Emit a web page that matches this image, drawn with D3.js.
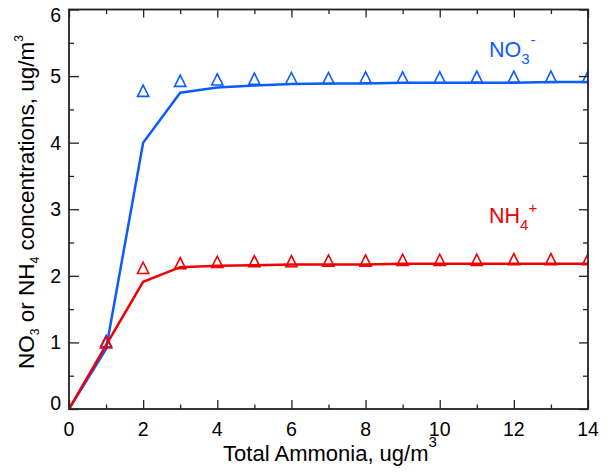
<!DOCTYPE html>
<html>
<head>
<meta charset="utf-8">
<script src="https://cdn.jsdelivr.net/npm/d3@7/dist/d3.min.js"></script>
<style>
  html, body { margin: 0; padding: 0; background: #fff; }
  svg { display: block; font-family: "Liberation Sans", Arial, sans-serif; }
</style>
</head>
<body>
<svg id="chart" width="613" height="474"></svg>
<script>
// ---- data ----
const ammonia   = [0, 1, 2, 3, 4, 5, 6, 7, 8, 9, 10, 11, 12, 13, 14];
const no3Model  = [0, 0.90, 4.00, 4.75, 4.83, 4.86, 4.88, 4.89, 4.89, 4.90, 4.90, 4.90, 4.90, 4.91, 4.91];
const nh4Model  = [0, 0.96, 1.91, 2.13, 2.15, 2.16, 2.17, 2.17, 2.17, 2.18, 2.18, 2.18, 2.18, 2.18, 2.18];
const obsX      = [1, 2, 3, 4, 5, 6, 7, 8, 9, 10, 11, 12, 13, 14];
const no3Obs    = [1.02, 4.78, 4.93, 4.95, 4.96, 4.97, 4.97, 4.98, 4.98, 4.98, 4.99, 4.99, 4.99, 4.99];
const nh4Obs    = [1.00, 2.12, 2.19, 2.21, 2.22, 2.22, 2.23, 2.23, 2.24, 2.24, 2.24, 2.25, 2.25, 2.25];
const xTicks    = [0, 2, 4, 6, 8, 10, 12, 14];
const yTicks    = [0, 1, 2, 3, 4, 5, 6];

const BLUE = "#0b5cff", RED = "#f00000";

const svg = d3.select("#chart");
const L = 69, R = 588, T = 9.5, B = 409;
const x = d3.scaleLinear().domain([0, 14]).range([L, R]);
const y = d3.scaleLinear().domain([0, 6]).range([B, T]);

svg.append("defs").append("clipPath").attr("id", "plotclip")
  .append("rect").attr("x", L).attr("y", T).attr("width", R - L).attr("height", B - T);

const plot = svg.append("g").attr("clip-path", "url(#plotclip)");

const line = d3.line().x((d, i) => x(ammonia[i])).y(d => y(d));
const tri = d3.symbol().type({
  draw(ctx, size) {
    const h = 5.6;
    ctx.moveTo(-h, h); ctx.lineTo(0, -h); ctx.lineTo(h, h); ctx.closePath();
  }
});

function series(model, obs, color) {
  plot.append("path").datum(model).attr("d", line)
    .attr("fill", "none").attr("stroke", color).attr("stroke-width", 2.5)
    .attr("stroke-linejoin", "miter");
  plot.selectAll(null).data(obs).enter().append("path")
    .attr("d", tri())
    .attr("transform", (d, i) => `translate(${x(obsX[i])},${y(d)})`)
    .attr("fill", "none").attr("stroke", color).attr("stroke-width", 1.6);
}
series(no3Model, no3Obs, BLUE);
series(nh4Model, nh4Obs, RED);

// ---- axes (IDL-style inward ticks on all sides) ----
const axColor = "#222";
const xAxisB = d3.axisBottom(x).tickValues(d3.range(0, 14.01, 1)).tickSize(-4.5).tickFormat("");
const xAxisT = d3.axisTop(x).tickValues(d3.range(0, 14.01, 1)).tickSize(-4.5).tickFormat("");
const yAxisL = d3.axisLeft(y).tickValues(d3.range(0, 6.01, 0.5)).tickSize(-5).tickFormat("");
const yAxisR = d3.axisRight(y).tickValues(d3.range(0, 6.01, 0.5)).tickSize(-5).tickFormat("");

function styleAxis(g, majorSel, majorLen, dir) {
  g.select(".domain").remove();
  g.selectAll(".tick line").attr("stroke", axColor).attr("stroke-width", 1.3);
  g.selectAll(".tick").filter(majorSel).select("line").each(function () {
    const ln = d3.select(this);
    if (dir === "x") ln.attr("y2", majorLen); else ln.attr("x2", majorLen);
  });
}
const gB = svg.append("g").attr("transform", `translate(0,${B})`).call(xAxisB);
styleAxis(gB, d => d % 2 === 0, -9, "x");
const gT = svg.append("g").attr("transform", `translate(0,${T})`).call(xAxisT);
styleAxis(gT, d => d % 2 === 0, 8, "x");
const gL = svg.append("g").attr("transform", `translate(${L},0)`).call(yAxisL);
styleAxis(gL, d => Number.isInteger(d), 10, "y");
const gR = svg.append("g").attr("transform", `translate(${R},0)`).call(yAxisR);
styleAxis(gR, d => Number.isInteger(d), -9, "y");

svg.append("rect").attr("x", L).attr("y", T).attr("width", R - L).attr("height", B - T)
  .attr("fill", "none").attr("stroke", axColor).attr("stroke-width", 1.8);

// tick labels
svg.append("g").selectAll("text").data(xTicks).enter().append("text")
  .attr("x", d => x(d)).attr("y", 436).attr("text-anchor", "middle")
  .attr("font-size", 19.5).attr("fill", "#000").text(d => d);
svg.append("g").selectAll("text").data(yTicks).enter().append("text")
  .attr("x", 61).attr("y", d => d === 0 ? 410 : d === 6 ? 22 : y(d) + 7)
  .attr("text-anchor", "end")
  .attr("font-size", 19.5).attr("fill", "#000").text(d => d);

// axis titles
const xt = svg.append("text").attr("x", 330).attr("y", 461).attr("text-anchor", "middle")
  .attr("font-size", 22).attr("fill", "#000");
xt.append("tspan").text("Total Ammonia, ug/m");
xt.append("tspan").attr("font-size", 15).attr("dy", -14).text("3");

const yt = svg.append("text").attr("transform", "translate(34,202) rotate(-90)")
  .attr("text-anchor", "middle").attr("font-size", 22.5).attr("fill", "#000");
yt.append("tspan").text("NO");
yt.append("tspan").attr("font-size", 12).attr("dy", 4.5).text("3");
yt.append("tspan").attr("dy", -4.5).text(" or NH");
yt.append("tspan").attr("font-size", 12).attr("dy", 4.5).text("4");
yt.append("tspan").attr("dy", -4.5).text(" concentrations, ug/m");
yt.append("tspan").attr("font-size", 12).attr("dy", -11.5).text("3");

// series labels
const l1 = svg.append("text").attr("x", 489).attr("y", 57).attr("font-size", 21.5).attr("fill", BLUE);
l1.append("tspan").text("NO");
l1.append("tspan").attr("font-size", 15).attr("dy", 7).text("3");
l1.append("tspan").attr("font-size", 15).attr("dy", -19).attr("dx", 1).text("-");

const l2 = svg.append("text").attr("x", 489).attr("y", 223).attr("font-size", 21.5).attr("fill", RED);
l2.append("tspan").text("NH");
l2.append("tspan").attr("font-size", 15).attr("dy", 7).text("4");
l2.append("tspan").attr("font-size", 15).attr("dy", -17).attr("dx", 0).text("+");
</script>
</body>
</html>
